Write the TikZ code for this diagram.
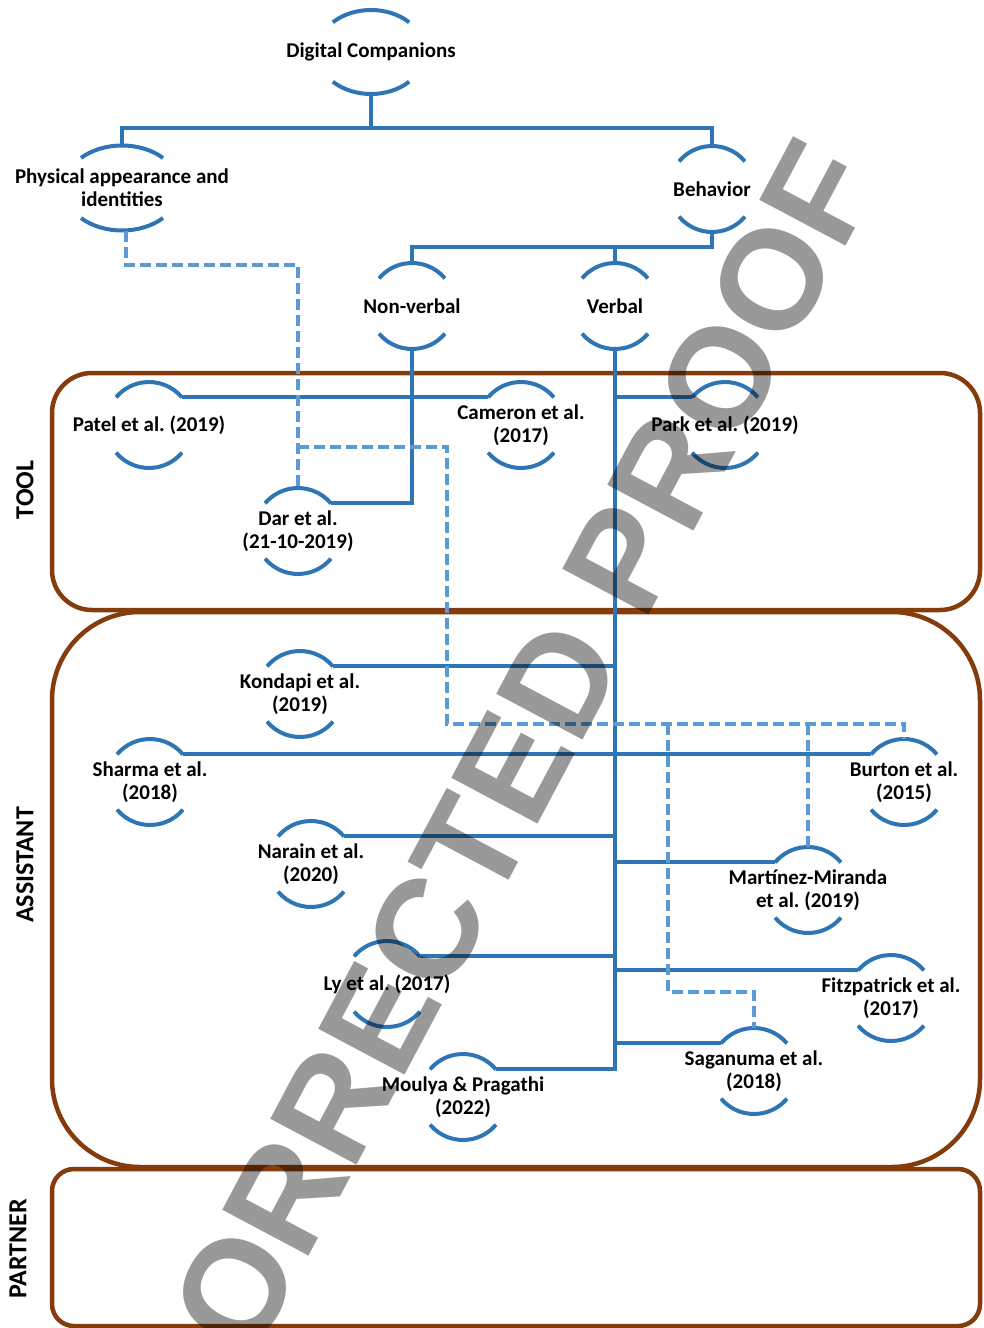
\documentclass[tikz,border=0pt]{standalone}
\usepackage{fontspec}
\setmainfont{Carlito}
\newfontfamily\wmfont{Liberation Sans}
\definecolor{cblue}{HTML}{2E75B6}
\definecolor{dblue}{HTML}{5B9BD5}
\definecolor{cbrown}{HTML}{843C0C}
\frenchspacing
% name, x, y, x radius, y radius, angle, text
\newcommand\cnode[7]{%
  \node[lbl] (#1) at (#2,#3) {#7};
  \path (#1.center) ++(#6:#4pt and #5pt) coordinate (#1-tr);
  \path (#1.center) ++(180-#6:#4pt and #5pt) coordinate (#1-tl);
  \path (#1.center) ++(0,#5pt) coordinate (#1-t);
  \path (#1.center) ++(0,-#5pt) coordinate (#1-b);
  \draw[arcl] (#1-tr) arc[start angle=#6, end angle=180-#6, x radius=#4pt, y radius=#5pt];
  \path (#1.center) ++(180+#6:#4pt and #5pt) coordinate (#1-bl);
  \draw[arcl] (#1-bl) arc[start angle=180+#6, end angle=360-#6, x radius=#4pt, y radius=#5pt];
}
\begin{document}
\begin{tikzpicture}[x=1pt,y=1pt,
  lbl/.style={font=\bfseries\fontsize{21}{23}\selectfont, align=center, inner sep=0pt, text=black},
  arcl/.style={draw=cblue, line width=4pt},
  conn/.style={draw=cblue, line width=4pt},
  dconn/.style={draw=dblue, line width=4pt, dash pattern=on 11pt off 5pt},
  boxline/.style={draw=cbrown, line width=4.5pt},
  side/.style={font=\bfseries\fontsize{26}{26}\selectfont, rotate=90, inner sep=0pt, text=black}]
\useasboundingbox (0,0) rectangle (983,-1328);

% category boxes
\draw[boxline, rounded corners=40pt] (52,-373) rectangle (980,-610);
\draw[boxline, rounded corners=88pt] (52,-612) rectangle (980,-1167);
\draw[boxline, rounded corners=22pt] (52,-1169) rectangle (980,-1326);
\node[side] (tool) at (25,-490) {TOOL};
\node[side] (assistant) at (25,-865) {ASSISTANT};
\node[side] (partner) at (18,-1249) {PARTNER};

% nodes
\cnode{DC}{371}{-52}{54}{42}{45}{Digital Companions}
\cnode{Phys}{122}{-188}{58}{42.5}{45}{Physical appearance and\\identities}
\cnode{Beh}{712}{-189}{43}{43}{40}{Behavior}
\cnode{NV}{412}{-306}{43}{43}{40}{Non-verbal}
\cnode{Verb}{615}{-306}{43}{43}{40}{Verbal}
\cnode{Patel}{149}{-425}{43}{43}{40}{Patel et al. (2019)}
\cnode{Cam}{521}{-425}{43}{43}{40}{Cameron et al.\\(2017)}
\cnode{Park}{725}{-425}{43}{43}{40}{Park et al. (2019)}
\cnode{Dar}{298}{-531}{43}{43}{40}{Dar et al.\\(21-10-2019)}
\cnode{Kon}{300}{-694}{43}{43}{40}{Kondapi et al.\\(2019)}
\cnode{Sha}{150}{-782}{43}{43}{40}{Sharma et al.\\(2018)}
\cnode{Bur}{904}{-782}{43}{43}{40}{Burton et al.\\(2015)}
\cnode{Nar}{311}{-864}{43}{43}{40}{Narain et al.\\(2020)}
\cnode{MM}{808}{-890}{43}{43}{40}{Martínez-Miranda\\et al. (2019)}
\cnode{Ly}{387}{-984}{43}{43}{40}{Ly et al. (2017)}
\cnode{Fitz}{891}{-998}{43}{43}{40}{Fitzpatrick et al.\\(2017)}
\cnode{Sag}{754}{-1071}{43}{43}{40}{Saganuma et al.\\(2018)}
\cnode{Mou}{463}{-1097}{43}{43}{40}{Moulya \& Pragathi\\(2022)}

% solid connectors
\coordinate (bus1) at (0,-128);
\coordinate (bus2) at (0,-247);
\draw[conn] (Phys-t) -- (Phys-t |- bus1) -- (Beh-t |- bus1) -- (Beh-t);
\draw[conn] (DC-b) -- (DC-b |- bus1);
\draw[conn] (NV-t) -- (NV-t |- bus2) -- (Beh-b |- bus2) -- (Beh-b);
\draw[conn] (Verb-t) -- (Verb-t |- bus2);
\draw[conn] (NV-b) |- (Dar-tr);
\draw[conn] (Patel-tr) -- (Cam-tl);
\draw[conn] (Verb-b) |- (Mou-tr);
\draw[conn] (Park-tl) -- (Park-tl -| Verb-b);
\draw[conn] (Kon-tr) -- (Kon-tr -| Verb-b);
\draw[conn] (Sha-tr) -- (Bur-tl);
\draw[conn] (Nar-tr) -- (Nar-tr -| Verb-b);
\draw[conn] (MM-tl) -- (MM-tl -| Verb-b);
\draw[conn] (Ly-tr) -- (Ly-tr -| Verb-b);
\draw[conn] (Fitz-tl) -- (Fitz-tl -| Verb-b);
\draw[conn] (Sag-tl) -- (Sag-tl -| Verb-b);

% dashed connectors
\coordinate (dA) at (0,-265);
\coordinate (dB) at (447,-447);
\coordinate (dC) at (447,-724);
\coordinate (dD) at (668,-724);
\coordinate (dE) at (668,-992);
\draw[dconn] ([xshift=4pt]Phys-b) |- (Dar-t |- dA) -- (Dar-t);
\draw[dconn] (Dar-t |- dB) -- (dB) -- (dC) -| (Bur-t);
\draw[dconn] (dD) -- (dE) -| (Sag-t);
\draw[dconn] (MM-t |- dC) -- (MM-t);

% watermark
\begin{scope}
\clip (0,0) rectangle (983,-1328);
\node[rotate=62, inner sep=0pt, text=black, text opacity=0.4,
      font=\wmfont\bfseries\fontsize{142}{142}\selectfont] (wm) at (500,-792) {CORRECTED PROOF};
\end{scope}
\end{tikzpicture}
\end{document}
